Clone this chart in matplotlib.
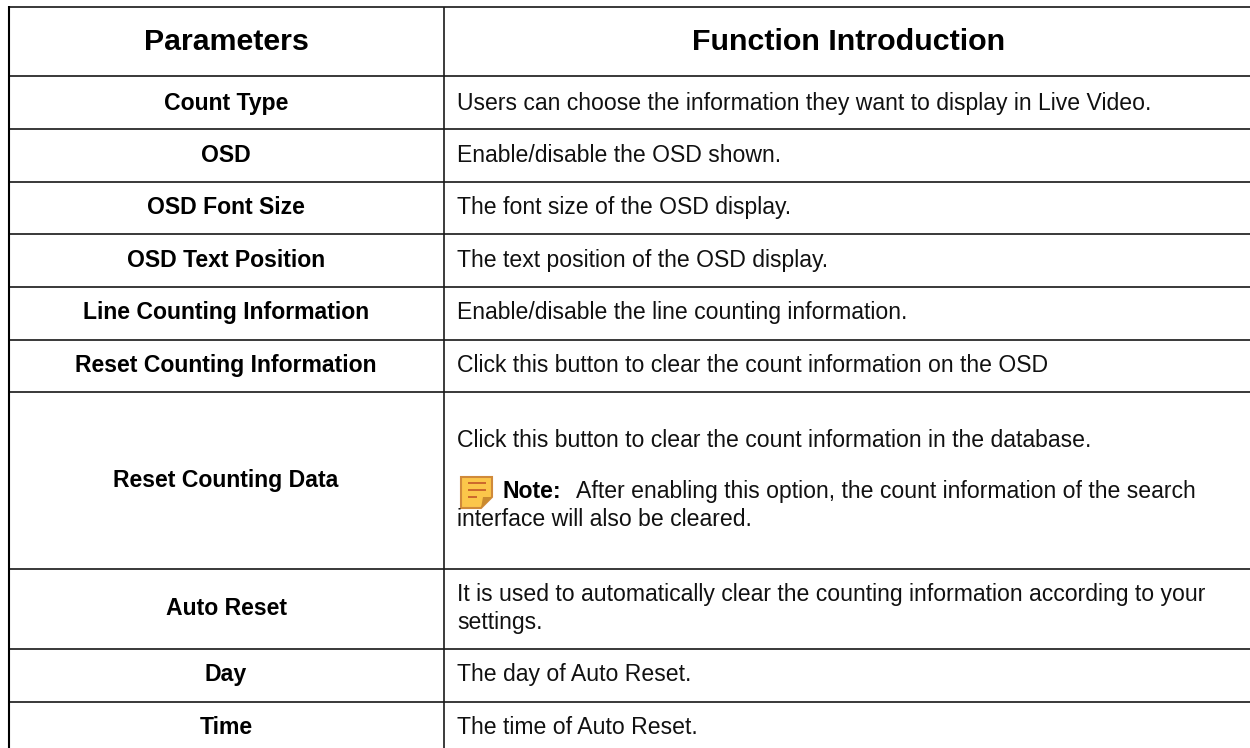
import matplotlib
matplotlib.use("Agg")
import matplotlib.pyplot as plt
from matplotlib.patches import Polygon

plt.rcParams["font.family"] = ["Liberation Sans", "DejaVu Sans"]

W, H = 1250, 748

headers = ["Parameters", "Function Introduction"]
parameters = ["Count Type", "OSD", "OSD Font Size", "OSD Text Position",
              "Line Counting Information", "Reset Counting Information",
              "Reset Counting Data", "Auto Reset", "Day", "Time"]
descriptions = ["Users can choose the information they want to display in Live Video.",
                "Enable/disable the OSD shown.",
                "The font size of the OSD display.",
                "The text position of the OSD display.",
                "Enable/disable the line counting information.",
                "Click this button to clear the count information on the OSD",
                None,
                None,
                "The day of Auto Reset.",
                "The time of Auto Reset."]
auto_reset_desc = ["It is used to automatically clear the counting information according to your",
                   "settings."]
reset_data_desc = "Click this button to clear the count information in the database."
note_label = "Note:"
note_lines = ["After enabling this option, the count information of the search",
              "interface will also be cleared."]

# pixel layout of the table, y counted from the top
row_lines = [7, 76, 129, 182, 234, 287, 340, 392, 569, 649, 701.5]
baselines = [109.5, 162, 214, 266.5, 318.5, 371.5, 487, 615, 681, 733.5]
PARAM_X = 226
DESC_X = 457
BODY_SIZE = 16.55
HEAD_SIZE = 21.9

fig = plt.figure(figsize=(W / 100, H / 100), dpi=100)
ax = fig.add_axes([0, 0, 1, 1])
ax.set_xlim(0, W)
ax.set_ylim(H, 0)
ax.axis("off")

# grid
for y in row_lines:
    ax.plot([8, W], [y, y], color="#2a2a2a", lw=1.3, solid_capstyle="butt")
ax.plot([9, 9], [6, H], color="black", lw=1.5, solid_capstyle="butt")
ax.plot([444, 444], [7, H], color="#1a1a1a", lw=1.2, solid_capstyle="butt")

# header
ax.text(226, 50, headers[0], fontsize=HEAD_SIZE, fontweight="bold", ha="center", va="baseline", color="black")
ax.text(848.5, 50, headers[1], fontsize=HEAD_SIZE, fontweight="bold", ha="center", va="baseline", color="black")

# parameter and description columns
for name, desc, y in zip(parameters, descriptions, baselines):
    ax.text(PARAM_X, y, name, fontsize=BODY_SIZE, fontweight="bold", ha="center", va="baseline", color="black")
    if desc:
        ax.text(DESC_X, y, desc, fontsize=BODY_SIZE, ha="left", va="baseline", color="#111111")

ax.text(DESC_X, 447, reset_data_desc, fontsize=BODY_SIZE, ha="left", va="baseline", color="#111111")
ax.text(503, 497.5, note_label, fontsize=BODY_SIZE, fontweight="bold", ha="left", va="baseline", color="black")
ax.text(576, 497.5, note_lines[0], fontsize=BODY_SIZE, ha="left", va="baseline", color="#111111")
ax.text(DESC_X, 526, note_lines[1], fontsize=BODY_SIZE, ha="left", va="baseline", color="#111111")
ax.text(DESC_X, 601, auto_reset_desc[0], fontsize=BODY_SIZE, ha="left", va="baseline", color="#111111")
ax.text(DESC_X, 629, auto_reset_desc[1], fontsize=BODY_SIZE, ha="left", va="baseline", color="#111111")

# note icon
ax.add_patch(Polygon([(461, 477), (492, 477), (492, 497), (481, 508), (461, 508)],
                     closed=True, facecolor="#fbc64a", edgecolor="#d08a3a", lw=1.5))
ax.add_patch(Polygon([(481, 508), (483, 497), (492, 497)], closed=True, facecolor="#c98a2e", edgecolor="none"))
for x0, x1, y in [(468, 486, 483), (468, 486, 490), (468, 477, 497)]:
    ax.plot([x0, x1], [y, y], color="#c8602a", lw=1.3, solid_capstyle="butt")

fig.savefig("out.png", dpi=100, facecolor="white")
